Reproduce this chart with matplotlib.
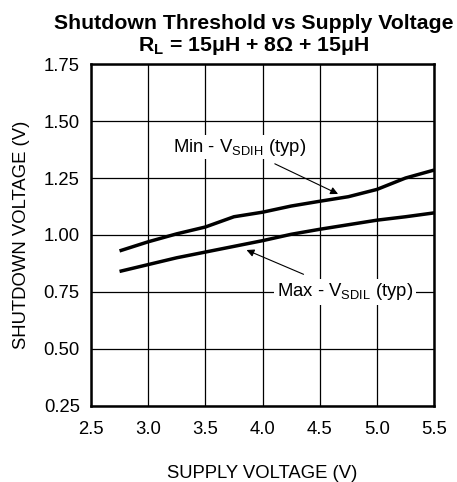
import numpy as np
import matplotlib
matplotlib.use("Agg")
import matplotlib.pyplot as plt

plt.rcParams['font.family'] = ['Liberation Sans', 'DejaVu Sans']
plt.rcParams['mathtext.default'] = 'regular'

# data
supply_v = [2.75, 3.0, 3.25, 3.5, 3.75, 4.0, 4.25, 4.5, 4.75, 5.0, 5.25, 5.5]
v_sdih = [0.93, 0.97, 1.005, 1.035, 1.08, 1.10, 1.127, 1.148, 1.168, 1.20, 1.25, 1.285]
v_sdil = [0.84, 0.87, 0.90, 0.925, 0.95, 0.975, 1.003, 1.025, 1.045, 1.065, 1.08, 1.097]
xticks = [2.5, 3.0, 3.5, 4.0, 4.5, 5.0, 5.5]
yticks = [0.25, 0.50, 0.75, 1.00, 1.25, 1.50, 1.75]

fig = plt.figure(figsize=(4.57, 4.82), dpi=100)
ax = fig.add_axes([0.199, 0.158, 0.751, 0.709])

ax.plot(supply_v, v_sdih, color='black', lw=2.5, solid_capstyle='butt', zorder=3)
ax.plot(supply_v, v_sdil, color='black', lw=2.5, solid_capstyle='butt', zorder=3)

ax.set_xlim(2.5, 5.5)
ax.set_ylim(0.25, 1.75)
ax.set_xticks(xticks)
ax.set_yticks(yticks)
ax.set_xticklabels([f"{v:.1f}" for v in xticks])
ax.set_yticklabels([f"{v:.2f}" for v in yticks])
ax.tick_params(length=0, labelsize=13.3)
ax.tick_params(axis='y', pad=8)
ax.tick_params(axis='x', pad=11)
ax.grid(True, color='black', lw=0.9)
for s in ax.spines.values():
    s.set_linewidth(1.8)

ax.set_xlabel('SUPPLY VOLTAGE (V)', fontsize=13.3, labelpad=19)
ax.set_ylabel('SHUTDOWN VOLTAGE (V)', fontsize=13.3, labelpad=10)

fig.text(0.555, 0.951, 'Shutdown Threshold vs Supply Voltage', ha='center', va='center',
         fontsize=15.3, fontweight='bold')
fig.text(0.555, 0.904, r'R$_{L}$ = 15μH + 8Ω + 15μH', ha='center', va='center',
         fontsize=15.3, fontweight='bold')

ax.annotate(r'Min - V$_{SDIH}$ (typ)', xy=(4.66, 1.18), xytext=(3.80, 1.386),
            ha='center', va='center', fontsize=13.3,
            bbox=dict(facecolor='white', edgecolor='none', pad=1),
            arrowprops=dict(arrowstyle='-|>', color='black', lw=0.8,
                            mutation_scale=11, shrinkA=8, shrinkB=0))
ax.annotate(r'Max - V$_{SDIL}$ (typ)', xy=(3.86, 0.934), xytext=(4.72, 0.75),
            ha='center', va='center', fontsize=13.3,
            bbox=dict(facecolor='white', edgecolor='none', pad=2),
            arrowprops=dict(arrowstyle='-|>', color='black', lw=0.8,
                            mutation_scale=11, shrinkA=8, shrinkB=0))

fig.savefig('out.png', dpi=100)
